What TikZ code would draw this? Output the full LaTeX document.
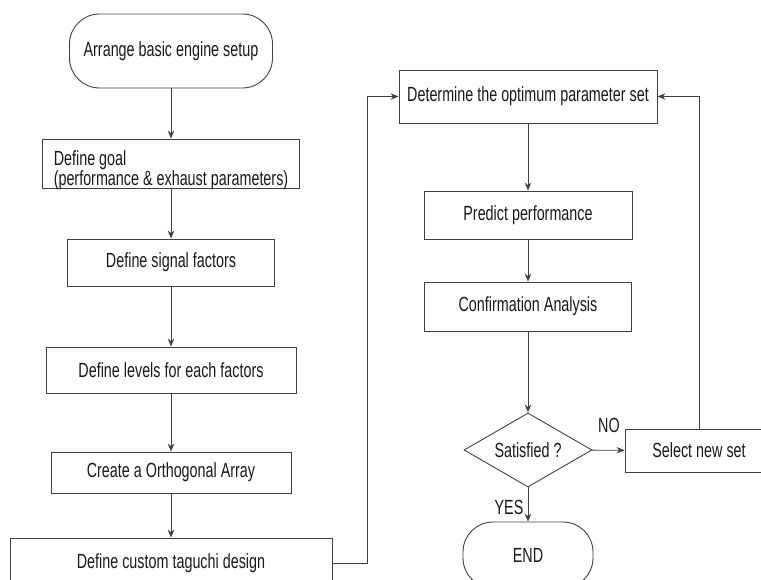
\documentclass[tikz,border=0pt]{standalone}
\usepackage{fontspec}
\setmainfont{Liberation Sans}[FakeStretch=0.70]
\usetikzlibrary{shapes.geometric,arrows.meta}

\begin{document}
\begin{tikzpicture}[x=1pt,y=-1pt,
  every node/.style={font=\fontsize{20.5}{18.5}\selectfont,text=black!90},
  box/.style={draw=black!75,line width=0.9pt,inner sep=0pt},
  term/.style={box,rounded corners=30pt},
  arr/.style={draw=black!75,line width=0.9pt,-{Stealth[length=8pt,width=6.5pt]}}]
\clip (0,0) rectangle (761,580);
\node[term,minimum width=203,minimum height=74] (start) at (171,51) {Arrange basic engine setup};
\node[box,minimum width=257,minimum height=49,align=left,text height=46,text depth=2] (goal) at (171,163.5) {Define goal\\(performance \& exhaust parameters)};
\node[box,minimum width=207,minimum height=47] (signal) at (171,262.5) {Define signal factors};
\node[box,minimum width=250,minimum height=46] (levels) at (171,370) {Define levels for each factors};
\node[box,minimum width=240,minimum height=41] (ortho) at (171,472.5) {Create a Orthogonal Array};
\node[box,minimum width=322,minimum height=50] (custom) at (171,563) {Define custom taguchi design};
\node[box,minimum width=258,minimum height=53] (optset) at (528,96.5) {Determine the optimum parameter set};
\node[box,minimum width=208,minimum height=48] (predict) at (528,215) {Predict performance};
\node[box,minimum width=207,minimum height=49] (confirm) at (528,306.5) {Confirmation Analysis};
\node[box,diamond,aspect=1.73,minimum width=128,minimum height=74] (satisfied) at (528,450) {Satisfied ?};
\node[term,minimum width=130,minimum height=66] (finish) at (528,555) {END};
\node[box,minimum width=148,minimum height=43] (newset) at (699,450.5) {Select new set};
\node (no) at (609,425) {NO};
\node (yes) at (509,507) {YES};
\draw[arr] (start) -- (goal);
\draw[arr] (goal) -- (signal);
\draw[arr] (signal) -- (levels);
\draw[arr] (levels) -- (ortho);
\draw[arr] (ortho) -- (custom);
\draw[arr] (custom.east) -- ++(35,0) |- (optset.west);
\draw[arr] (optset) -- (predict);
\draw[arr] (predict) -- (confirm);
\draw[arr] (confirm) -- (satisfied);
\draw[arr] (satisfied) -- (newset);
\draw[arr] (satisfied) -- (finish);
\draw[arr] (newset.north) |- (optset.east);
\end{tikzpicture}
\end{document}
